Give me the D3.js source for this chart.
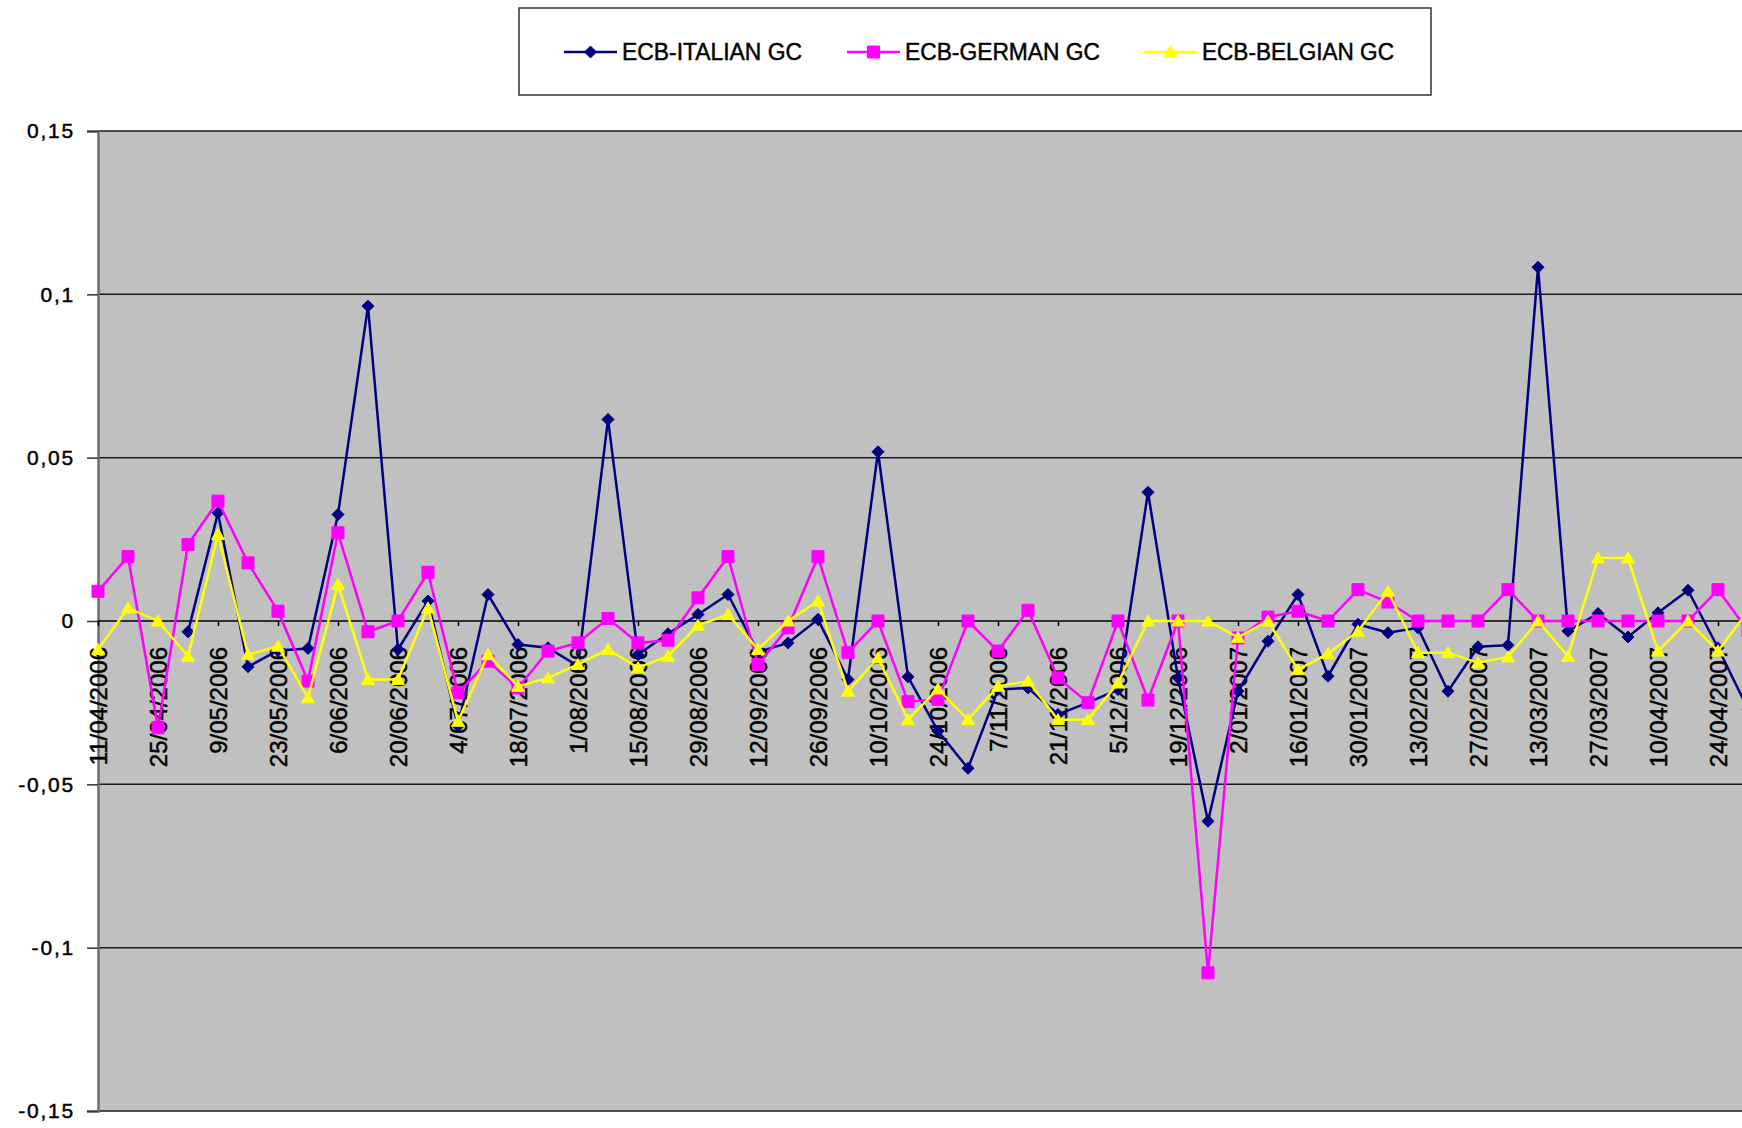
<!DOCTYPE html>
<html>
<head>
<meta charset="utf-8">
<script src="https://cdn.jsdelivr.net/npm/d3@7"></script>
<style>
  html, body { margin: 0; padding: 0; background: #ffffff; }
  svg { display: block; }
  text { font-family: "Liberation Sans", Arial, sans-serif; fill: #000; stroke: #000; stroke-width: 0.45px; }
</style>
</head>
<body>
<svg id="chart" width="1742" height="1128"></svg>
<script>
// ---- data ----
const dates = ["11/04/2006","18/04/2006","25/04/2006","2/05/2006","9/05/2006","16/05/2006","23/05/2006","30/05/2006",
  "6/06/2006","13/06/2006","20/06/2006","27/06/2006","4/07/2006","11/07/2006","18/07/2006","25/07/2006",
  "1/08/2006","8/08/2006","15/08/2006","22/08/2006","29/08/2006","5/09/2006","12/09/2006","19/09/2006",
  "26/09/2006","3/10/2006","10/10/2006","17/10/2006","24/10/2006","31/10/2006","7/11/2006","14/11/2006",
  "21/11/2006","28/11/2006","5/12/2006","12/12/2006","19/12/2006","26/12/2006","2/01/2007","9/01/2007",
  "16/01/2007","23/01/2007","30/01/2007","6/02/2007","13/02/2007","20/02/2007","27/02/2007","6/03/2007",
  "13/03/2007","20/03/2007","27/03/2007","3/04/2007","10/04/2007","17/04/2007","24/04/2007","1/05/2007"];

const italian = [null, null, null, -0.0033, 0.0331, -0.014, -0.009, -0.0084, 0.0326, 0.0964,
  -0.0087, 0.0061, -0.0322, 0.0081, -0.0072, -0.0082, -0.0138, 0.0617, -0.0103, -0.0039,
  0.002, 0.0081, -0.0095, -0.0067, 0.0005, -0.0179, 0.0518, -0.0171, -0.0337, -0.0451,
  -0.021, -0.0205, -0.0286, -0.025, -0.021, 0.0394, -0.0174, -0.0613, -0.0215, -0.0062,
  0.0081, -0.0169, -0.001, -0.0036, -0.0021, -0.0215, -0.0079, -0.0074, 0.1083, -0.0031,
  0.0023, -0.0049, 0.0025, 0.0094, -0.0082, -0.027];

const german = [0.0091, 0.0197, -0.0327, 0.0234, 0.0367, 0.0178, 0.003, -0.0184, 0.027, -0.0033,
  0, 0.0149, -0.022, -0.0123, -0.0205, -0.0092, -0.0067, 0.0008, -0.0067, -0.0059,
  0.0071, 0.0197, -0.0133, -0.0021, 0.0197, -0.0097, 0, -0.0247, -0.024, 0,
  -0.0092, 0.0033, -0.0174, -0.025, 0, -0.0242, 0, -0.1077, -0.0052, 0.0012,
  0.003, 0, 0.0096, 0.0058, 0, 0, 0, 0.0096, 0, 0,
  0, 0, 0, 0, 0.0096, -0.003];

const belgian = [-0.0087, 0.004, 0, -0.0108, 0.0265, -0.0103, -0.0077, -0.0235, 0.0112, -0.0179,
  -0.0179, 0.004, -0.0307, -0.0103, -0.02, -0.0174, -0.0133, -0.0087, -0.0143, -0.0108,
  -0.0013, 0.002, -0.0087, 0, 0.0061, -0.0215, -0.0113, -0.0302, -0.0208, -0.0302,
  -0.02, -0.0184, -0.0302, -0.0302, -0.019, 0, 0, 0, -0.005, 0,
  -0.0149, -0.01, -0.0031, 0.0091, -0.0097, -0.0097, -0.0128, -0.011, 0, -0.0108,
  0.0193, 0.0193, -0.0092, 0, -0.0092, 0.003];

const seriesNames = ["ECB-ITALIAN GC", "ECB-GERMAN GC", "ECB-BELGIAN GC"];
const yTicks = [0.15, 0.1, 0.05, 0, -0.05, -0.1, -0.15];
const yTickLabels = ["0,15", "0,1", "0,05", "0", "-0,05", "-0,1", "-0,15"];

// ---- layout ----
const svg = d3.select("#chart");
const W = 1742;
const plotLeft = 98, plotTop = 131, plotBottom = 1111;
const step = 30;

const x = d3.scalePoint().domain(dates).range([plotLeft, plotLeft + step * (dates.length - 1)]);
const y = d3.scaleLinear().domain([-0.15, 0.15]).range([plotBottom, plotTop]);

// plot background
svg.append("rect").attr("x", plotLeft).attr("y", plotTop)
  .attr("width", W - plotLeft).attr("height", plotBottom - plotTop)
  .attr("fill", "#c0c0c0");

// gridlines
svg.append("g").selectAll("line").data(yTicks.filter(v => v !== 0)).join("line")
  .attr("x1", plotLeft).attr("x2", W)
  .attr("y1", d => y(d)).attr("y2", d => y(d))
  .attr("stroke", "#1a1a1a").attr("stroke-width", 1.5);

// y axis
const yAxis = d3.axisLeft(y).tickValues(yTicks).tickSize(11).tickPadding(12)
  .tickFormat((d, i) => yTickLabels[i]);
const gy = svg.append("g").attr("transform", `translate(${plotLeft},0)`).call(yAxis);
gy.select(".domain").attr("stroke", "#6e6e6e").attr("stroke-width", 2.5);
gy.selectAll(".tick line").attr("stroke", "#333").attr("stroke-width", 1.5);
gy.selectAll(".tick text")
  .style("font-family", '"Liberation Sans", Arial, sans-serif')
  .style("font-size", "21px").style("letter-spacing", "1.8px").attr("fill", "#000");

// x axis at zero
const xTickVals = dates.filter((d, i) => i % 2 === 0);
const xAxis = d3.axisBottom(x).tickValues(xTickVals).tickSize(5).tickSizeOuter(0).tickFormat(d => d);
const gx = svg.append("g").attr("transform", `translate(0,${y(0)})`).call(xAxis);
gx.select(".domain").attr("d", `M${plotLeft},0H${W}`).attr("stroke", "#000").attr("stroke-width", 1.5);
gx.selectAll(".tick line").attr("stroke", "#000").attr("stroke-width", 1.5);
gx.selectAll(".tick text")
  .style("font-family", '"Liberation Sans", Arial, sans-serif')
  .style("font-size", "24px").attr("fill", "#000")
  .attr("text-anchor", "end")
  .attr("transform", "translate(0,26) rotate(-90)")
  .attr("x", 0).attr("y", 0).attr("dy", "0.36em");

// series
const colors = ["#000080", "#ff00ff", "#ffff00"];
const allSeries = [italian, german, belgian];
const markerPaths = [
  "M0,-6L6,0L0,6L-6,0Z",
  "M-6,-6H6V6H-6Z",
  "M0,-6L6.5,5L-6.5,5Z"
];

allSeries.forEach((vals, s) => {
  const pts = vals.map((v, i) => ({ d: dates[i], v }));
  const line = d3.line().defined(p => p.v !== null).x(p => x(p.d)).y(p => y(p.v));
  const g = svg.append("g");
  g.append("path").datum(pts).attr("d", line)
    .attr("fill", "none").attr("stroke", colors[s]).attr("stroke-width", 2.5)
    .attr("stroke-linejoin", "miter");
  g.selectAll("path.m").data(pts.filter(p => p.v !== null)).join("path")
    .attr("class", "m")
    .attr("d", markerPaths[s])
    .attr("transform", p => `translate(${x(p.d)},${y(p.v)})`)
    .attr("fill", colors[s]).attr("stroke", colors[s]).attr("stroke-width", 1);
});

// legend
const legend = svg.append("g");
legend.append("rect").attr("x", 519).attr("y", 8).attr("width", 912).attr("height", 87)
  .attr("fill", "#fff").attr("stroke", "#333").attr("stroke-width", 1.5);
const legendX = [564, 847, 1144];
const legendTextW = [180, 195, 192];
seriesNames.forEach((name, s) => {
  const lg = legend.append("g").attr("transform", `translate(${legendX[s]},52)`);
  lg.append("line").attr("x1", 0).attr("x2", 53).attr("y1", 0).attr("y2", 0)
    .attr("stroke", colors[s]).attr("stroke-width", 2.5);
  lg.append("path").attr("d", markerPaths[s]).attr("transform", "translate(26.5,0)")
    .attr("fill", colors[s]).attr("stroke", colors[s]);
  lg.append("text").attr("x", 58).attr("y", 0).attr("dy", "0.36em")
    .attr("textLength", legendTextW[s]).attr("lengthAdjust", "spacingAndGlyphs")
    .style("font-size", "23px").text(name);
});
</script>
</body>
</html>
